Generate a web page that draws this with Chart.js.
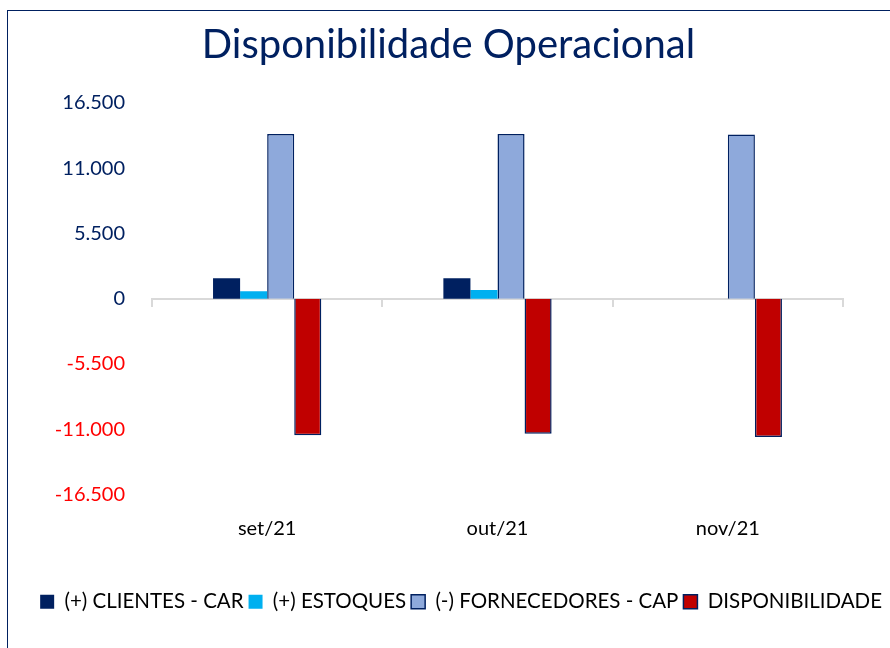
<!DOCTYPE html>
<html>
<head>
<meta charset="utf-8">
<script src="https://cdn.jsdelivr.net/npm/chart.js@4"></script>
<style>
  html, body { margin: 0; padding: 0; background: #fff; }
  .frame { position: absolute; left: 7px; top: 10px; width: 883px; height: 638px;
           border-left: 1.5px solid #002060; border-top: 1.5px solid #002060; }
  .box { position: absolute; left: 0; top: 0; width: 890px; height: 648px; }
</style>
</head>
<body>
<div class="frame"></div>
<div class="box"><canvas id="myChart" width="890" height="648"></canvas></div>
<script>
var meses = ['set/21', 'out/21', 'nov/21']
var clientes = [1730, 1730, 0]
var estoques = [640, 740, 0]
var fornecedores = [13880, 13880, 13850]
var disponibilidade = [-11500, -11380, -11660]
var yTicks = [-16500, -11000, -5500, 0, 5500, 11000, 16500]

var navy = '#002060'
var fonte = 'Lato, Calibri, "Liberation Sans", sans-serif'

function fmt(v) {
    var s = Math.abs(v).toString().replace(/\B(?=(\d{3})+(?!\d))/g, '.')
    return (v < 0 ? '-' : '') + s
}

var ctx = document.getElementById('myChart')
var myChart = new Chart(ctx, {
    type: 'bar',
    data: {
        labels: meses,
        datasets: [
            { label: '(+) CLIENTES - CAR', data: clientes, backgroundColor: navy, borderColor: navy, borderWidth: 0 },
            { label: '(+) ESTOQUES', data: estoques, backgroundColor: '#00B0F0', borderColor: '#00B0F0', borderWidth: 0 },
            { label: '(-) FORNECEDORES - CAP', data: fornecedores, backgroundColor: '#8EA9DB', borderColor: navy, borderWidth: 1.5 },
            { label: 'DISPONIBILIDADE', data: disponibilidade, backgroundColor: '#C00000', borderColor: navy, borderWidth: 1.5 }
        ]
    },
    options: {
        responsive: false,
        animation: false,
        datasets: { bar: { categoryPercentage: 0.47, barPercentage: 1 } },
        layout: { padding: { left: 10, right: 3, top: 12, bottom: 26 } },
        plugins: {
            title: {
                display: true,
                text: 'Disponibilidade Operacional',
                color: navy,
                font: { family: fonte, size: 40, weight: 'normal' },
                padding: { top: 9, bottom: 34 }
            },
            legend: {
                position: 'bottom',
                align: 'end',
                labels: {
                    color: '#000',
                    font: { family: fonte, size: 20.5 },
                    boxWidth: 14, boxHeight: 14, padding: 5
                }
            },
            tooltip: { enabled: false }
        },
        scales: {
            x: {
                position: { y: 0 },
                offset: true,
                ticks: { display: false },
                grid: { display: true, drawOnChartArea: false, drawTicks: true, tickLength: 7, color: '#D9D9D9', lineWidth: 2, offset: true },
                border: { display: true, color: '#D9D9D9', width: 2 }
            },
            x2: {
                type: 'category',
                labels: meses,
                position: 'bottom',
                offset: true,
                grid: { display: false, drawTicks: false },
                border: { display: false },
                ticks: { color: '#000', font: { family: fonte, size: 20 }, padding: 22 },
                afterFit: function(s) { s.height = 92 }
            },
            y: {
                min: -16500,
                max: 16500,
                afterBuildTicks: function(axis) { axis.ticks = yTicks.map(function(v) { return { value: v } }) },
                grid: { display: false, drawTicks: false },
                border: { display: false },
                afterFit: function(s) { s.width = 142 },
                ticks: {
                    padding: 27,
                    font: { family: fonte, size: 20 },
                    color: function(c) { return c.tick.value < 0 ? '#FF0000' : navy },
                    callback: function(v) { return fmt(v) }
                }
            },
            yR: {
                position: 'right',
                display: true,
                grid: { display: false, drawTicks: false },
                border: { display: false },
                ticks: { display: false },
                afterFit: function(s) { s.width = 44 }
            }
        }
    }
})
</script>
</body>
</html>
